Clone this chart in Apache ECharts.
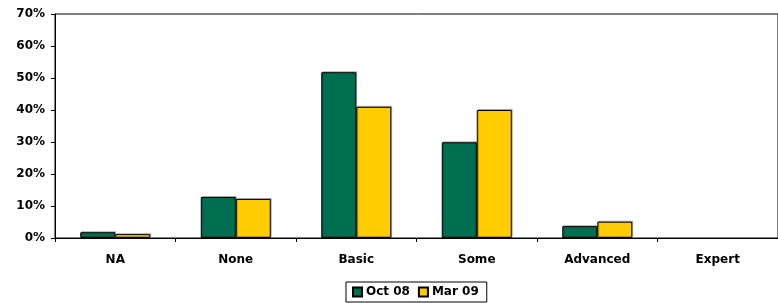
<!DOCTYPE html>
<html>
<head>
<meta charset="utf-8">
<script src="https://cdn.jsdelivr.net/npm/echarts@6/dist/echarts.min.js"></script>
<style>html,body{margin:0;padding:0;background:#fff}#c{width:778px;height:303px}</style>
</head>
<body>
<div id="c"></div>
<script>
const categories = ['NA', 'None', 'Basic', 'Some', 'Advanced', 'Expert'];
const oct08 = [1.8, 12.8, 51.8, 29.9, 3.7, 0];
const mar09 = [1.2, 12.2, 41.0, 40.0, 5.1, 0];
const seriesNames = ['Oct 08', 'Mar 09'];
const yTicks = [0, 10, 20, 30, 40, 50, 60, 70];

const font = 'DejaVu Sans';
const chart = echarts.init(document.getElementById('c'), null, {renderer: 'canvas'});
const barStyle = (color) => ({
  color: color, borderColor: '#000', borderWidth: 1,
  shadowColor: 'rgba(0,0,0,0.25)', shadowOffsetX: 1, shadowOffsetY: -1, shadowBlur: 0
});
const toData = (arr) => arr.map(v => v === 0 ? {value: v, itemStyle: {borderWidth: 0, shadowColor: 'transparent'}} : v);
chart.setOption({
  animation: false,
  grid: {left: 55, top: 14, right: -1, bottom: 65, show: true, borderColor: '#000', borderWidth: 1},
  legend: {
    data: seriesNames, left: 346, bottom: 1,
    itemWidth: 9, itemHeight: 9, itemGap: 8,
    borderColor: '#000', borderWidth: 1, padding: [4, 8, 4, 6],
    textStyle: {fontFamily: font, fontWeight: 'bold', fontSize: 12, color: '#000', padding: [0, 0, 0, -1]},
    icon: 'rect'
  },
  xAxis: {
    type: 'category', data: categories,
    axisLine: {lineStyle: {color: '#000', width: 1}},
    axisTick: {show: true, length: 4, inside: false, lineStyle: {color: '#000'}},
    axisLabel: {fontFamily: font, fontWeight: 'bold', fontSize: 12, color: '#000', margin: 16}
  },
  yAxis: {
    type: 'value', min: 0, max: 70, interval: 10,
    axisLine: {show: true, lineStyle: {color: '#000', width: 1}},
    axisTick: {show: true, length: 4, lineStyle: {color: '#000'}},
    splitLine: {show: false},
    axisLabel: {fontFamily: font, fontWeight: 'bold', fontSize: 12, color: '#000', margin: 10,
      formatter: v => yTicks.includes(v) ? v + '%' : ''}
  },
  series: [
    {name: seriesNames[0], type: 'bar', data: toData(oct08), barWidth: 35, barGap: '0%', itemStyle: barStyle('#006E50')},
    {name: seriesNames[1], type: 'bar', data: toData(mar09), barWidth: 35, barGap: '0%', itemStyle: barStyle('#FFCC00')}
  ]
});
</script>
</body>
</html>
